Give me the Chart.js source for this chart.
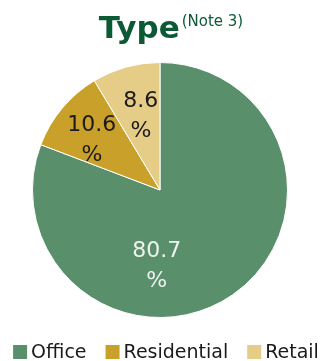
<!DOCTYPE html>
<html>
<head>
<meta charset="utf-8">
<script src="https://cdn.jsdelivr.net/npm/chart.js@4/dist/chart.umd.min.js"></script>
<style>
  html, body { margin: 0; padding: 0; background: #fff; }
  #wrap { width: 324px; height: 361px; position: relative; }
</style>
</head>
<body>
<div id="wrap"><canvas id="typeChart"></canvas></div>
<script>
// chart data
var categories = ['Office', 'Residential', 'Retail'];
var shares = [80.7, 10.6, 8.6];
var sliceColors = ['#5a8f6b', '#c9a02a', '#e5cc87'];
var labelColors = ['#eef3ee', '#1a1a1a', '#1a1a1a'];
// small angle nudges (degrees) for the value labels, like the original
var labelShift = [37, -4, 1];

var titleText = 'Type';
var noteText = '(Note 3)';

var titlePlugin = {
  id: 'typeTitle',
  afterDraw: function (chart) {
    var ctx = chart.ctx;
    ctx.save();
    ctx.fillStyle = '#0b5a35';
    ctx.textBaseline = 'alphabetic';
    ctx.font = 'bold 31px "DejaVu Sans"';
    var w1 = ctx.measureText(titleText).width;
    ctx.font = '15px "DejaVu Sans"';
    var w2 = ctx.measureText(noteText).width;
    var x = 171 - (w1 + 2 + w2) / 2;
    ctx.font = 'bold 31px "DejaVu Sans"';
    ctx.fillText(titleText, x, 38);
    ctx.font = '15px "DejaVu Sans"';
    ctx.fillText(noteText, x + w1 + 2, 26);
    ctx.restore();
  }
};

// legend row along the bottom (the built-in one can't space items this wide)
var bottomLegend = {
  id: 'bottomLegend',
  afterDraw: function (chart) {
    var ctx = chart.ctx;
    var box = 14, gapText = 4, gapItem = 19;
    ctx.save();
    ctx.font = '19px "DejaVu Sans"';
    ctx.textBaseline = 'alphabetic';
    var widths = categories.map(function (c) { return ctx.measureText(c).width; });
    var total = 0;
    widths.forEach(function (w) { total += box + gapText + w; });
    total += gapItem * (categories.length - 1);
    var x = 166 - total / 2;
    categories.forEach(function (c, i) {
      ctx.fillStyle = sliceColors[i];
      ctx.fillRect(x, 345, box, box);
      ctx.fillStyle = '#1a1a1a';
      ctx.fillText(c, x + box + gapText, 358);
      x += box + gapText + widths[i] + gapItem;
    });
    ctx.restore();
  }
};

var valueLabels = {
  id: 'valueLabels',
  afterDatasetsDraw: function (chart) {
    var ctx = chart.ctx;
    var meta = chart.getDatasetMeta(0);
    ctx.save();
    ctx.font = '22px "DejaVu Sans"';
    ctx.textAlign = 'center';
    ctx.textBaseline = 'middle';
    meta.data.forEach(function (arc, i) {
      var p = arc.getProps(['x', 'y', 'startAngle', 'endAngle', 'outerRadius'], true);
      var a = (p.startAngle + p.endAngle) / 2 + labelShift[i] * Math.PI / 180;
      var r = p.outerRadius * (i === 1 ? 0.66 : 0.6);
      var cx = p.x + Math.cos(a) * r;
      var cy = p.y + Math.sin(a) * r;
      ctx.fillStyle = labelColors[i];
      ctx.fillText(shares[i].toFixed(1), cx, cy - 15);
      ctx.fillText('%', cx, cy + 15);
    });
    ctx.restore();
  }
};

var config = {
  type: 'pie',
  data: {
    labels: categories,
    datasets: [{
      data: shares,
      backgroundColor: sliceColors,
      borderColor: '#ffffff',
      borderWidth: 1
    }]
  },
  options: {
    responsive: true,
    maintainAspectRatio: false,
    animation: false,
    layout: {
      padding: { top: 62, left: 0, right: 4, bottom: 43 }
    },
    plugins: {
      legend: { display: false },
      title: { display: false },
      tooltip: { enabled: false }
    }
  },
  plugins: [titlePlugin, valueLabels, bottomLegend]
};

var ctx = document.getElementById('typeChart');
if (ctx) {
  new Chart(ctx.getContext('2d'), config);
}
</script>
</body>
</html>
